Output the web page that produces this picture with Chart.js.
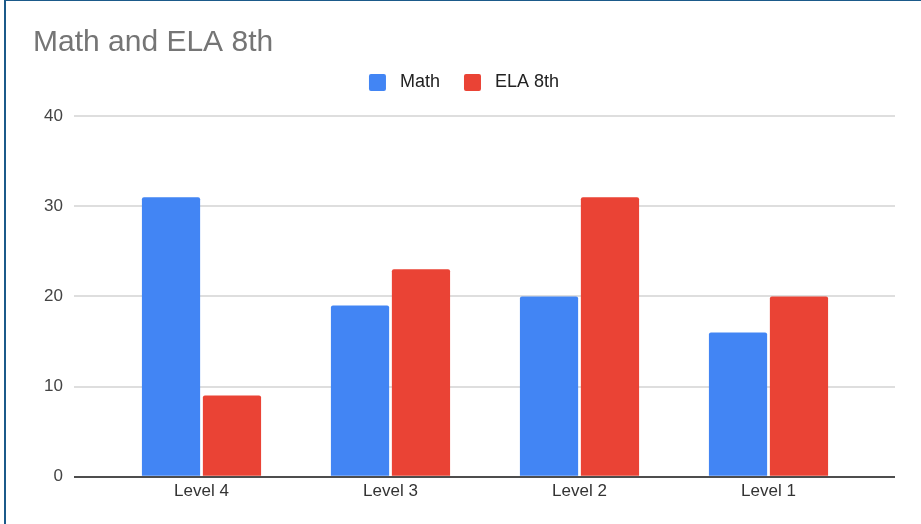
<!DOCTYPE html>
<html>
<head>
<meta charset="utf-8">
<title>Math and ELA 8th</title>
<script src="https://cdn.jsdelivr.net/npm/chart.js@4.4.1/dist/chart.umd.min.js"></script>
<style>
  html, body { margin: 0; padding: 0; background: #fff; overflow: hidden; }
  #wrap { position: relative; width: 921px; height: 524px; }
  #wrap canvas { position: absolute; left: 0; top: 0; }
  #frame {
    position: absolute; left: 4px; top: 0; right: 0; bottom: 0;
    border-left: 2px solid #1b5a8a; border-top: 1px solid #1b5a8a;
    pointer-events: none;
  }
</style>
</head>
<body>
<div id="wrap">
  <canvas id="chart" width="921" height="524"></canvas>
  <div id="frame"></div>
</div>
<script>
// Data
const categories = ['Level 4', 'Level 3', 'Level 2', 'Level 1'];
const mathCounts = [31, 19, 20, 16];
const elaCounts  = [9, 23, 31, 20];
const yTickValues = [0, 10, 20, 30, 40];
const seriesNames = ['Math', 'ELA 8th'];

const FONT = '"Liberation Sans", Arial, sans-serif';

const gridColor = (ctx) => (ctx.tick && ctx.tick.value === 0) ? '#4d4d4d' : '#dedede';
const useTickValues = (scale) => { scale.ticks = yTickValues.map(v => ({ value: v })); };

new Chart(document.getElementById('chart'), {
  type: 'bar',
  data: {
    labels: categories,
    datasets: [
      {
        label: seriesNames[0],
        data: mathCounts,
        backgroundColor: '#4285f4',
        borderWidth: 0,
        borderRadius: 2,
        barPercentage: 0.955,
        categoryPercentage: 0.645
      },
      {
        label: seriesNames[1],
        data: elaCounts,
        backgroundColor: '#ea4335',
        borderWidth: 0,
        borderRadius: 2,
        barPercentage: 0.955,
        categoryPercentage: 0.645
      }
    ]
  },
  options: {
    responsive: false,
    devicePixelRatio: 1,
    animation: false,
    events: [],
    layout: { padding: { left: 33, right: 26, top: 0, bottom: 18 } },
    plugins: {
      title: {
        display: true,
        text: 'Math and ELA 8th',
        align: 'start',
        color: '#757575',
        font: { family: FONT, size: 30, weight: 'normal', lineHeight: 1.2 },
        padding: { top: 25, bottom: -11.5 }
      },
      // empty spacer between the legend and the plot area
      subtitle: {
        display: true,
        text: '',
        weight: 500,
        font: { family: FONT, size: 14.5, lineHeight: 1 },
        padding: 0
      },
      legend: {
        position: 'top',
        align: 'center',
        labels: {
          boxWidth: 17,
          boxHeight: 17,
          padding: 24,
          color: '#222222',
          useBorderRadius: true,
          borderRadius: 2,
          font: { family: FONT, size: 18 },
          generateLabels: (chart) =>
            Chart.defaults.plugins.legend.labels.generateLabels(chart)
              .map(item => Object.assign(item, { text: ' ' + item.text }))
        }
      },
      tooltip: { enabled: false }
    },
    scales: {
      x: {
        offset: true,
        grid: { display: false, drawTicks: false },
        border: { display: false },
        ticks: { color: '#333333', font: { family: FONT, size: 17 }, padding: 4.4 }
      },
      y: {
        position: 'left',
        min: 0,
        max: 40,
        afterBuildTicks: useTickValues,
        afterFit: (scale) => { scale.width = 74; },
        border: { display: false },
        grid: {
          color: gridColor,
          lineWidth: 2,
          drawTicks: true,
          tickLength: 33
        },
        ticks: { color: '#444444', font: { family: FONT, size: 17 }, padding: 11 }
      },
      yRight: {
        position: 'right',
        min: 0,
        max: 40,
        afterBuildTicks: useTickValues,
        border: { display: false },
        grid: {
          color: gridColor,
          lineWidth: 2,
          drawOnChartArea: false,
          drawTicks: true,
          tickLength: 32
        },
        ticks: { display: false }
      }
    }
  }
});
</script>
</body>
</html>
